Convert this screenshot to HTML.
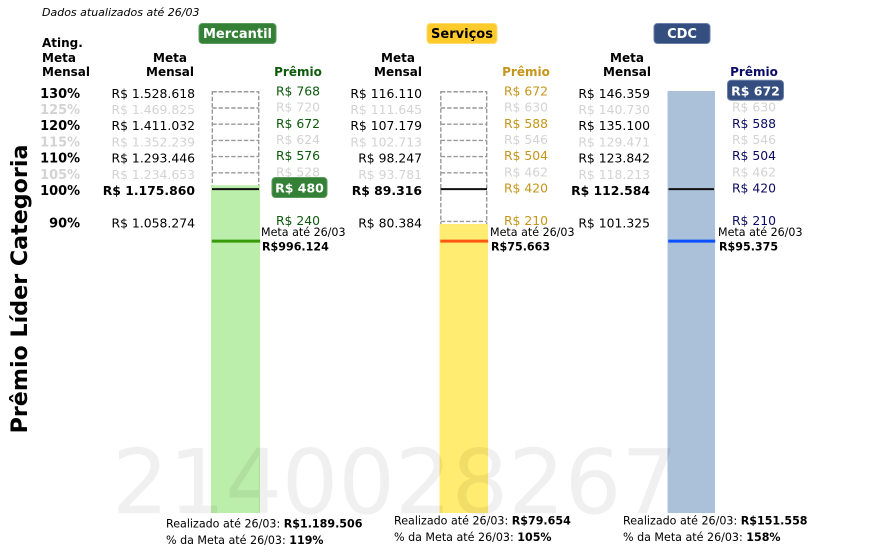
<!DOCTYPE html>
<html lang="pt-BR">
<head>
<meta charset="utf-8">
<title>Prêmio Líder Categoria</title>
<style>
html,body{margin:0;padding:0;background:#fff;}
#chart{display:block;width:893px;height:555px;font-family:"DejaVu Sans",sans-serif;}
</style>
</head>
<body>
<svg id="chart" xmlns="http://www.w3.org/2000/svg" width="893" height="555" viewBox="0 0 893 555"></svg>
<script>
// ---- chart data ----
const tierPercents = [130, 125, 120, 115, 110, 105, 100, 90];
const mercantilMetas = [1528618, 1469825, 1411032, 1352239, 1293446, 1234653, 1175860, 1058274];
const servicosMetas = [116110, 111645, 107179, 102713, 98247, 93781, 89316, 80384];
const cdcMetas = [146359, 140730, 135100, 129471, 123842, 118213, 112584, 101325];
const mercantilPremios = [768, 720, 672, 624, 576, 528, 480, 240];
const servicosPremios = [672, 630, 588, 546, 504, 462, 420, 210];
const cdcPremios = [672, 630, 588, 546, 504, 462, 420, 210];
const categoryNames = ['Mercantil', 'Serviços', 'CDC'];
const metaAteValues = [996124, 75663, 95375];
const realizadoValues = [1189506, 79654, 151558];
const percentMetaLabels = [119, 105, 158];
const wonTierIndex = [6, -1, 0];
const watermarkText = '2140028267';

// ---- layout and style ----
const NS = 'http://www.w3.org/2000/svg';
const svg = document.getElementById('chart');
const baseY = 513;
const pxPerUnit = 324;
const targetOffset = 2.6;
const panels = [
  {key:'mercantil', metas:mercantilMetas, premios:mercantilPremios, barL:211, barR:260, metaR:195, metaC:170, premC:298.5, labelX:261, bottomX:166, bottomY:527.7, pillL:199, pillR:276, pillFill:'#348037', pillStroke:'#5a9a5c', pillText:'#fff', premColor:'#0c5a0c', barFill:'#bbeeaa', targetColor:'#3a9b0a', wonW:55},
  {key:'servicos', metas:servicosMetas, premios:servicosPremios, barL:439.5, barR:488, metaR:422, metaC:398, premC:526.5, labelX:490, bottomX:394, bottomY:524.7, pillL:427, pillR:497, pillFill:'#ffca2c', pillStroke:'#ffdb70', pillText:'#000', premColor:'#c6961a', barFill:'#ffec70', targetColor:'#ff5a10', wonW:55},
  {key:'cdc', metas:cdcMetas, premios:cdcPremios, barL:667.5, barR:715, metaR:650, metaC:627, premC:754.5, labelX:718, bottomX:623, bottomY:524.7, pillL:654, pillR:710, pillFill:'#344e80', pillStroke:'#6d81a8', pillText:'#fff', premColor:'#0b0b66', barFill:'#abc1d9', targetColor:'#0a50ff', wonW:56}
];

function make(tag, name, attrs, parent) {
  const el = document.createElementNS(NS, tag);
  
  
  for (const k in attrs) el.setAttribute(k, attrs[k]);
  (parent || svg).appendChild(el);
  return el;
}
function label(name, str, x, y, size, opts, parent) {
  const o = opts || {};
  const el = make('text', name, {x:x, y:y, 'font-size':size, fill:o.fill || '#000', 'text-anchor':o.anchor || 'start', 'font-weight':o.weight || 'normal', 'font-style':o.style || 'normal'}, parent);
  el.textContent = str;
  return el;
}
function fmt(v) { return String(Math.round(v)).replace(/\B(?=(\d{3})+(?!\d))/g, '.'); }
function yOf(value, meta100) { return baseY - (value / meta100) * pxPerUnit; }
function isMuted(i) { return tierPercents[i] % 10 !== 0; }

// ---- static texts ----
label('update-note', 'Dados atualizados até 26/03', 42, 16, 11, {style:'italic'});
label('ating-header-line-1', 'Ating.', 42, 47, 12, {weight:'bold'});
label('ating-header-line-2', 'Meta', 42, 62, 12, {weight:'bold'});
label('ating-header-line-3', 'Mensal', 42, 76, 12, {weight:'bold'});
label('y-axis-title', 'Prêmio Líder Categoria', 0, 0, 22.2, {weight:'bold', anchor:'middle'})
  .setAttribute('transform', 'translate(27,289) rotate(-90)');

// ---- percent column, positioned by the first panel's scale ----
tierPercents.forEach(function (p, i) {
  const y = yOf(mercantilMetas[i], mercantilMetas[6]);
  label('tier-percent-' + p, p + '%', 80, y + 6, 12.9,
    {weight:'bold', anchor:'end', fill:isMuted(i) ? '#d3d3d3' : '#000'});
});

// ---- panels ----
panels.forEach(function (c, pi) {
  const g = make('g', c.key + '-panel', {});
  const meta100 = c.metas[6];
  const topY = yOf(c.metas[0], meta100);

  // header texts
  label(c.key + '-meta-header-line-1', 'Meta', c.metaC, 62, 12, {weight:'bold', anchor:'middle'}, g);
  label(c.key + '-meta-header-line-2', 'Mensal', c.metaC, 76, 12, {weight:'bold', anchor:'middle'}, g);
  label(c.key + '-premio-header', 'Prêmio', c.premC - 0.5, 76, 12, {weight:'bold', anchor:'middle', fill:c.premColor}, g);

  // category pill
  make('rect', c.key + '-category-pill-box', {x:c.pillL, y:23.5, width:c.pillR - c.pillL, height:20, rx:3.5, fill:c.pillFill, stroke:c.pillStroke, 'stroke-width':1}, g);
  label(c.key + '-category-pill', categoryNames[pi], (c.pillL + c.pillR) / 2, 37.8, 13, {weight:'bold', anchor:'middle', fill:c.pillText}, g);

  // dashed scale outline and tier lines
  make('rect', c.key + '-scale-outline', {x:c.barL + 1.3, y:topY, width:c.barR - c.barL - 2.6, height:baseY - topY - 3, fill:'none', stroke:'#999', 'stroke-width':1.4, 'stroke-dasharray':'4.4 1.9'}, g);
  c.metas.forEach(function (m, i) {
    if (tierPercents[i] === 100) return;
    const y = yOf(m, meta100);
    make('line', c.key + '-tier-line-' + tierPercents[i], {x1:c.barL + 1.3, x2:c.barR - 1.3, y1:y, y2:y, stroke:'#999', 'stroke-width':1.4, 'stroke-dasharray':'4.4 1.9'}, g);
  });

  // realized bar, capped at the top tier
  const barTop = Math.max(yOf(realizadoValues[pi], meta100), topY - 0.8);
  make('rect', c.key + '-realized-bar', {x:c.barL, y:barTop, width:c.barR - c.barL, height:baseY - barTop, fill:c.barFill}, g);

  // 100% line and current target line
  const y100 = yOf(meta100, meta100);
  make('line', c.key + '-meta-100-line', {x1:c.barL + 1, x2:c.barR - 1, y1:y100 + 0.1, y2:y100 + 0.1, stroke:'#111', 'stroke-width':2}, g);
  const targetY = yOf(metaAteValues[pi], meta100) + targetOffset;
  make('line', c.key + '-target-line', {x1:c.barL + 0.8, x2:c.barR + 0.2, y1:targetY, y2:targetY, stroke:c.targetColor, 'stroke-width':3}, g);

  // meta and premio labels
  c.metas.forEach(function (m, i) {
    const y = yOf(m, meta100);
    const hundred = tierPercents[i] === 100;
    label(c.key + '-meta-value-' + tierPercents[i], 'R$ ' + fmt(m), c.metaR, y + 6, 12.4,
      {anchor:'end', weight:hundred ? 'bold' : 'normal', fill:isMuted(i) ? '#d3d3d3' : '#000'}, g);
    const txt = 'R$ ' + fmt(c.premios[i]);
    if (wonTierIndex[pi] === i) {
      make('rect', c.key + '-won-premio-box', {x:c.premC - c.wonW / 2 + 1, y:y - 11.5, width:c.wonW, height:20, rx:3.5, fill:c.pillFill, stroke:c.pillStroke, 'stroke-width':1}, g);
      label(c.key + '-won-premio', txt, c.premC + 1, y + 3.5, 12.5, {anchor:'middle', weight:'bold', fill:'#fff'}, g);
    } else {
      label(c.key + '-premio-value-' + tierPercents[i], txt, c.premC - 0.5, y + 3.6, 12.4,
        {anchor:'middle', fill:isMuted(i) ? '#d3d3d3' : c.premColor}, g);
    }
  });

  // target label
  label(c.key + '-target-label', 'Meta até 26/03', c.labelX, targetY - 5, 11.1, {}, g);
  label(c.key + '-target-value', 'R$' + fmt(metaAteValues[pi]), c.labelX + 1, targetY + 9.5, 11.1, {weight:'bold'}, g);

  // bottom summary
  const r = label(c.key + '-realized-summary', 'Realizado até 26/03: ', c.bottomX, c.bottomY, 11.1, {}, g);
  const rb = document.createElementNS(NS, 'tspan');
  rb.setAttribute('font-weight', 'bold');
  rb.textContent = 'R$' + fmt(realizadoValues[pi]);
  r.appendChild(rb);
  const s = label(c.key + '-percent-summary', '% da Meta até 26/03: ', c.bottomX, c.bottomY + 16.5, 11.1, {}, g);
  const sb = document.createElementNS(NS, 'tspan');
  sb.setAttribute('font-weight', 'bold');
  sb.textContent = percentMetaLabels[pi] + '%';
  s.appendChild(sb);
});

// ---- watermark ----
const wm = label('watermark-id', watermarkText, 112, baseY, 89, {fill:'#000'});
wm.setAttribute('fill-opacity', '0.06');
wm.setAttribute('textLength', '566');
</script>
</body>
</html>
